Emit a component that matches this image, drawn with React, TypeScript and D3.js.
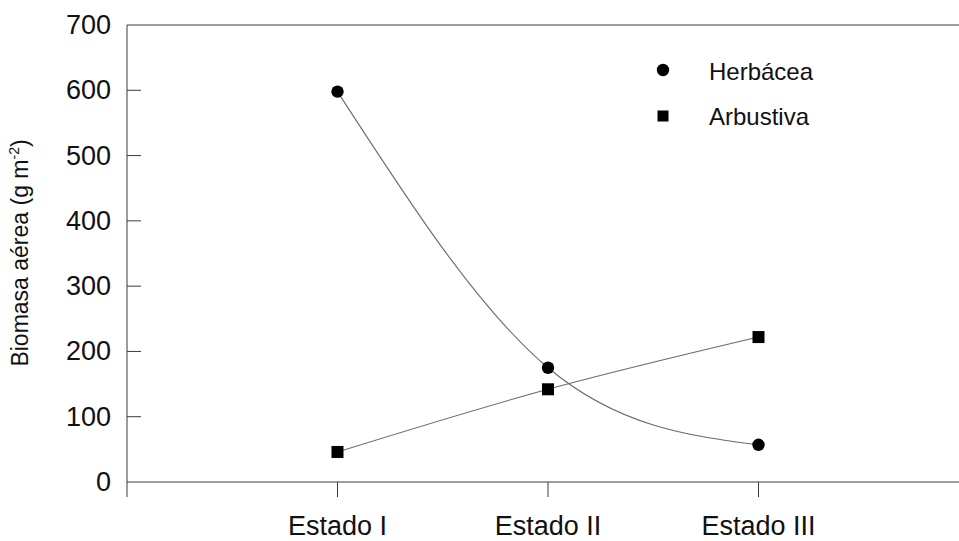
import React from "react";
import * as d3 from "d3";

const categories = ["Estado I", "Estado II", "Estado III"];
const herbacea = [598, 175, 57];
const arbustiva = [46, 142, 222];
const yTicks = [0, 100, 200, 300, 400, 500, 600, 700];
const legendLabels = ["Herbácea", "Arbustiva"];

const W = 959;
const H = 541;
const FONT = "'Liberation Sans', Arial, Helvetica, sans-serif";

export default function App() {
  const x = d3.scaleLinear().domain([0, 4]).range([127, 969]);
  const y = d3.scaleLinear().domain([0, 700]).range([482, 25]);

  const line = d3
    .line<number>()
    .x((_, i) => x(i + 1))
    .y((d) => y(d))
    .curve(d3.curveNatural);

  const axisColor = "#3a3a3a";
  const lineColor = "#6a6a6a";

  return (
    <svg
      width={W}
      height={H}
      style={{ position: "absolute", left: 0, top: 0, background: "#fff" }}
      fontFamily={FONT}
    >
      <rect x={0} y={0} width={W} height={H} fill="#fff" />
      {/* top border */}
      <line x1={x(0)} x2={x(4)} y1={y(700)} y2={y(700)} stroke={axisColor} strokeWidth={1} />
      {/* y axis */}
      <line x1={x(0)} x2={x(0)} y1={y(700)} y2={y(0) + 15} stroke={axisColor} strokeWidth={1} />
      {/* x axis */}
      <line x1={x(0)} x2={x(4)} y1={y(0)} y2={y(0)} stroke={axisColor} strokeWidth={1} />
      {/* y ticks */}
      {yTicks.map((t) => (
        <g key={t}>
          {t > 0 && t < 700 && (
            <line x1={x(0)} x2={x(0) + 14} y1={y(t)} y2={y(t)} stroke={axisColor} strokeWidth={1} />
          )}
          <text
            x={111}
            y={y(t)}
            textAnchor="end"
            dominantBaseline="central"
            fontSize={27}
            fill="#111"
          >
            {t}
          </text>
        </g>
      ))}
      {/* x ticks */}
      {categories.map((c, i) => (
        <g key={c}>
          <line x1={x(i + 1)} x2={x(i + 1)} y1={y(0)} y2={y(0) + 15} stroke={axisColor} strokeWidth={1} />
          <text x={x(i + 1)} y={535} textAnchor="middle" fontSize={27} fill="#111">
            {c}
          </text>
        </g>
      ))}
      {/* y title */}
      <text
        transform={`translate(28, 253) rotate(-90)`}
        textAnchor="middle"
        fontSize={23}
        fill="#111"
      >
        Biomasa aérea (g m
        <tspan fontSize={14} dy={-9}>-2</tspan>
        <tspan dy={9}>)</tspan>
      </text>
      {/* curves */}
      <path d={line(herbacea) || ""} fill="none" stroke={lineColor} strokeWidth={1.1} />
      <path d={line(arbustiva) || ""} fill="none" stroke={lineColor} strokeWidth={1.1} />
      {/* markers */}
      {herbacea.map((v, i) => (
        <circle key={"h" + i} cx={x(i + 1)} cy={y(v)} r={6.2} fill="#000" />
      ))}
      {arbustiva.map((v, i) => (
        <rect key={"a" + i} x={x(i + 1) - 6} y={y(v) - 6} width={12} height={12} fill="#000" />
      ))}
      {/* legend */}
      <circle cx={663} cy={70} r={6.2} fill="#000" />
      <text x={709} y={80} fontSize={24} fill="#111">
        {legendLabels[0]}
      </text>
      <rect x={657.5} y={110.5} width={11} height={11} fill="#000" />
      <text x={709} y={125} fontSize={24} fill="#111">
        {legendLabels[1]}
      </text>
    </svg>
  );
}
